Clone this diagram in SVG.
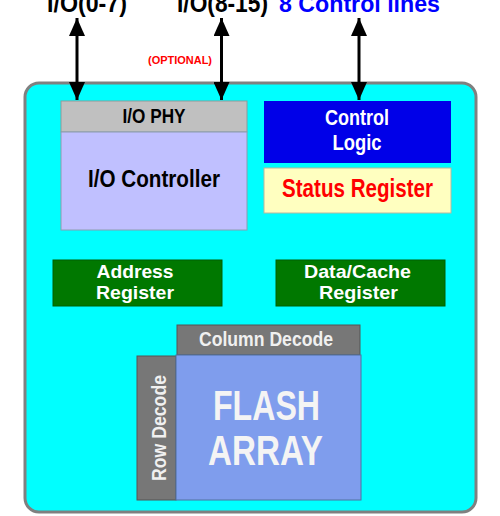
<svg xmlns="http://www.w3.org/2000/svg" width="500" height="516" viewBox="0 0 500 516">
<defs>
<marker id="ah" markerUnits="userSpaceOnUse" markerWidth="18" markerHeight="16" refX="18" refY="8" orient="auto-start-reverse" viewBox="0 0 18 16">
<path d="M0,0 L18,8 L0,16 z" fill="#000"/>
</marker>
<style>
text{font-family:"Liberation Sans",Arial,sans-serif;font-weight:bold;text-anchor:middle}
.conn line{stroke:#000;stroke-width:3;marker-start:url(#ah);marker-end:url(#ah)}
</style>
</defs>
<rect width="500" height="516" fill="#fff"/>
<g id="chip">
<rect x="25" y="83" width="451" height="429" rx="14" fill="#00ffff" stroke="#808080" stroke-width="3"/>
</g>
<g id="labels">
<text x="87" y="12" font-size="26" fill="#000" textLength="80" lengthAdjust="spacingAndGlyphs">I/O(0-7)</text>
<text x="222.5" y="12" font-size="26" fill="#000" textLength="91" lengthAdjust="spacingAndGlyphs">I/O(8-15)</text>
<text x="359.5" y="12" font-size="23" fill="#0000ff" textLength="161" lengthAdjust="spacingAndGlyphs">8 Control lines</text>
<text x="180" y="64" font-size="10.5" fill="#ff0000" textLength="64" lengthAdjust="spacingAndGlyphs">(OPTIONAL)</text>
</g>
<g id="io-phy">
<rect x="61" y="101" width="186" height="31" fill="#c0c0c0" stroke="#8c9c9c" stroke-width="1"/>
<text x="154" y="123" font-size="21" fill="#000" textLength="63" lengthAdjust="spacingAndGlyphs">I/O PHY</text>
</g>
<g id="io-controller">
<rect x="61" y="132" width="186" height="98" fill="#c0c0ff" stroke="#8c9cb0" stroke-width="1"/>
<text x="154" y="187" font-size="24" fill="#000" textLength="132" lengthAdjust="spacingAndGlyphs">I/O Controller</text>
</g>
<g id="control-logic">
<rect x="264" y="101" width="187" height="62" fill="#0000e8"/>
<text x="357" y="125" font-size="22" fill="#fff" textLength="64" lengthAdjust="spacingAndGlyphs">Control</text>
<text x="357" y="150" font-size="22" fill="#fff" textLength="49" lengthAdjust="spacingAndGlyphs">Logic</text>
</g>
<g id="status-register">
<rect x="264" y="168" width="187" height="45" fill="#ffffc0" stroke="#b8b8a0" stroke-width="1"/>
<text x="357.5" y="197" font-size="25" fill="#ff0000" textLength="151" lengthAdjust="spacingAndGlyphs">Status Register</text>
</g>
<g id="address-register">
<rect x="53" y="260" width="169" height="46" fill="#007800" stroke="#006000" stroke-width="1"/>
<text x="135" y="278" font-size="19" fill="#fff" textLength="77" lengthAdjust="spacingAndGlyphs">Address</text>
<text x="135" y="299" font-size="19" fill="#fff" textLength="78" lengthAdjust="spacingAndGlyphs">Register</text>
</g>
<g id="data-cache-register">
<rect x="276" y="260" width="169" height="46" fill="#007800" stroke="#006000" stroke-width="1"/>
<text x="357.5" y="278" font-size="19" fill="#fff" textLength="107" lengthAdjust="spacingAndGlyphs">Data/Cache</text>
<text x="358.5" y="299" font-size="19" fill="#fff" textLength="79" lengthAdjust="spacingAndGlyphs">Register</text>
</g>
<g id="column-decode">
<rect x="177" y="325" width="183" height="30" fill="#777777" stroke="#555" stroke-width="1"/>
<text x="266" y="346" font-size="20" fill="#f0f0f0" textLength="134" lengthAdjust="spacingAndGlyphs">Column Decode</text>
</g>
<g id="row-decode">
<rect x="137" y="356" width="39" height="144" fill="#777777" stroke="#555" stroke-width="1"/>
<text transform="translate(166,428) rotate(-90)" x="0" y="0" font-size="20" fill="#f0f0f0" textLength="106" lengthAdjust="spacingAndGlyphs">Row Decode</text>
</g>
<g id="flash-array">
<rect x="176" y="355" width="185" height="145" fill="#7f9ded" stroke="#5070a0" stroke-width="1"/>
<text x="266.5" y="420" font-size="42" fill="#f4f4f4" textLength="107" lengthAdjust="spacingAndGlyphs">FLASH</text>
<text x="265.5" y="465" font-size="42" fill="#f4f4f4" textLength="115" lengthAdjust="spacingAndGlyphs">ARRAY</text>
</g>
<g id="connectors" class="conn">
<line x1="77" y1="18" x2="77" y2="100"/>
<line x1="221.5" y1="18" x2="221.5" y2="100"/>
<line x1="359" y1="18" x2="359" y2="100"/>
</g>
</svg>
